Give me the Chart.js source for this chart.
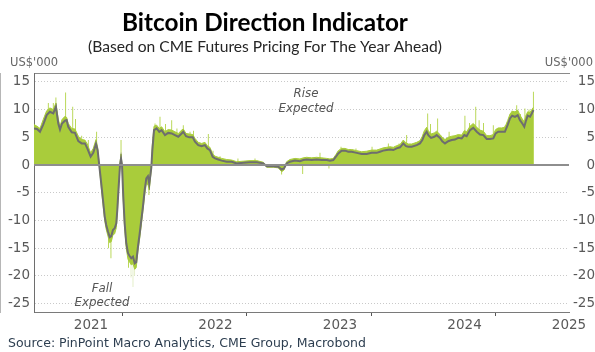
<!DOCTYPE html>
<html>
<head>
<meta charset="utf-8">
<script src="https://cdn.jsdelivr.net/npm/chart.js@4.4.1/dist/chart.umd.min.js"></script>
<style>
  html, body { margin: 0; padding: 0; background: #ffffff; }
  #wrap { position: relative; width: 595px; height: 352px; }
</style>
</head>
<body>
<div id="wrap"><canvas id="c" width="595" height="352"></canvas></div>
<script>
// ---------- DATA (US$'000, decimal-year dates) ----------
const dates = [
2021.042,2021.066,2021.090,2021.116,2021.144,2021.170,2021.197,2021.218,2021.237,2021.251,
2021.267,2021.291,2021.304,2021.317,2021.345,2021.371,2021.398,2021.425,2021.451,2021.470,
2021.497,2021.518,2021.540,2021.553,2021.566,2021.582,2021.596,2021.610,2021.622,2021.636,
2021.650,2021.663,2021.676,2021.690,2021.703,2021.711,2021.722,2021.733,2021.741,2021.749,
2021.759,2021.770,2021.783,2021.797,2021.810,2021.823,2021.837,2021.851,2021.863,2021.877,
2021.891,2021.904,2021.917,2021.931,2021.944,2021.957,2021.968,2021.984,2021.992,2022.006,
2022.027,2022.048,2022.067,2022.094,2022.120,2022.148,2022.174,2022.201,2022.228,2022.241,
2022.263,2022.289,2022.317,2022.335,2022.361,2022.389,2022.415,2022.434,2022.455,2022.477,
2022.496,2022.522,2022.549,2022.590,2022.630,2022.670,2022.723,2022.777,2022.831,2022.884,
2022.911,2022.964,2023.004,2023.031,2023.050,2023.071,2023.098,2023.138,2023.178,2023.205,
2023.232,2023.272,2023.312,2023.353,2023.393,2023.419,2023.446,2023.467,2023.486,2023.513,
2023.540,2023.566,2023.594,2023.634,2023.674,2023.714,2023.754,2023.794,2023.821,2023.847,
2023.875,2023.901,2023.928,2023.955,2023.982,2024.008,2024.030,2024.048,2024.076,2024.116,
2024.142,2024.161,2024.177,2024.196,2024.209,2024.231,2024.257,2024.276,2024.303,2024.321,
2024.343,2024.369,2024.397,2024.423,2024.450,2024.477,2024.498,2024.517,2024.544,2024.570,
2024.598,2024.624,2024.651,2024.678,2024.704,2024.731,2024.750,2024.771,2024.798,2024.824,
2024.846,2024.865,2024.883,2024.905,2024.927,2024.945,2024.964,2024.980,2024.991,2025.007,
2025.026,2025.040,2025.053
];

// daily indicator (green area)
const indicator = [
7.3,7.0,6.6,8.2,9.8,10.3,10.0,11.2,8.3,7.0,
8.2,8.8,8.6,7.5,6.6,6.5,5.2,4.6,4.5,3.8,
2.2,3.0,4.6,3.2,0,-4.0,-7.0,-10.0,-11.6,-12.8,
-14.0,-13.8,-12.6,-12.4,-11.3,-8.8,-4.3,0.5,2.0,0,
-6.3,-11.4,-15.0,-17.0,-17.5,-18.0,-17.8,-18.8,-18.5,-15.5,
-13.2,-10.8,-8.3,-5.4,-3.4,-3.5,-4.5,-0.8,3.5,7.0,
7.2,6.6,6.9,6.0,6.4,6.3,6.0,5.7,6.3,6.5,
5.7,5.6,5.5,4.8,4.1,3.9,4.1,3.5,3.2,2.0,
1.6,1.4,1.2,1.0,0.9,0.6,0.7,0.8,0.8,0.5,
-0.4,-0.4,-0.5,-1.2,-0.9,0.6,1.0,1.2,1.1,1.3,
1.4,1.3,1.4,1.3,1.2,1.1,1.2,1.9,2.6,3.0,
3.0,2.8,2.8,2.6,2.4,2.5,2.7,2.7,2.9,3.1,
3.2,3.3,3.2,3.5,3.7,4.5,4.0,3.8,3.8,4.1,
4.4,5.2,6.2,6.8,6.2,5.6,5.8,6.1,5.5,5.0,
4.6,5.0,5.2,5.3,5.5,5.4,6.2,6.0,7.0,7.5,
6.8,6.3,6.1,5.3,5.3,5.5,6.4,6.7,6.7,6.8,
8.0,9.2,9.7,9.6,9.9,9.0,8.3,7.8,8.8,9.6,
9.5,10.0,10.4
];

// smoothed indicator (grey line)
const smoothed = [
6.6,6.5,6.0,7.3,9.0,9.6,9.3,10.5,7.5,6.4,
7.5,8.0,8.1,6.9,5.9,5.8,4.3,3.9,3.9,3.0,
1.5,2.2,3.8,2.7,0,-3.3,-6.3,-9.3,-10.8,-12.0,
-13.0,-12.8,-11.7,-11.4,-10.5,-8.1,-3.9,0,1.2,0,
-5.7,-10.5,-14.1,-15.9,-16.4,-16.8,-16.5,-17.7,-17.5,-14.7,
-12.3,-9.9,-7.5,-4.5,-2.4,-2.0,-3.4,-0.5,2.5,6.3,
6.6,6.0,6.3,5.4,5.8,5.7,5.4,5.1,5.7,6.0,
5.2,5.0,5.0,4.2,3.6,3.4,3.6,3.0,2.7,1.5,
1.2,1.0,0.8,0.6,0.6,0.3,0.4,0.5,0.5,0.3,
-0.2,-0.2,-0.3,-0.8,-0.6,0.3,0.6,0.8,0.7,0.9,
1.0,0.9,1.0,0.9,0.9,0.8,0.9,1.5,2.1,2.6,
2.6,2.4,2.4,2.2,2.0,2.0,2.2,2.2,2.4,2.6,
2.7,2.8,2.7,3.0,3.2,3.9,3.4,3.3,3.3,3.6,
3.9,4.5,5.4,6.0,5.4,4.9,5.1,5.4,4.9,4.3,
3.9,4.3,4.5,4.6,4.9,4.8,5.4,5.2,6.3,6.7,
6.0,5.5,5.4,4.7,4.7,4.8,5.7,6.0,6.0,6.0,
7.2,8.4,8.9,8.7,9.0,8.1,7.5,6.9,7.8,8.9,
8.7,9.3,9.9
];

// single-day spikes of the daily indicator
const spikeDates = [
2021.157,2021.197,2021.218,2021.296,2021.353,2021.375,2021.425,2021.478,2021.545,2021.640,
2021.660,2021.741,2021.801,2021.821,2021.837,2021.850,2021.965,
2022.014,2022.054,2022.098,2022.148,2022.190,2022.241,2022.295,2022.323,2022.442,2022.480,
2022.536,2022.680,2022.817,
2023.031,2023.200,2023.339,2023.411,2023.508,2023.628,2023.757,2023.888,2023.974,
2024.035,2024.204,2024.227,2024.284,2024.376,2024.503,2024.540,2024.590,2024.617,2024.652,
2024.731,2024.824,2024.881,2024.919,2024.949,2024.985,2025.018,2025.053
];
const spikeValues = [
11.2,11.2,12.2,13.1,10.5,8.3,5.3,4.5,6.0,-15.0,
-16.8,4.5,-18.5,-20.3,-22.0,-20.0,-5.4,
7.5,8.7,7.4,8.1,6.6,7.2,6.0,6.2,5.6,2.6,
1.6,1.2,1.2,
-1.7,-1.6,2.2,-0.6,3.3,3.0,3.3,3.9,3.9,
5.4,9.3,7.4,8.4,6.0,8.9,7.6,10.5,8.1,7.6,
7.2,7.1,9.8,10.8,9.2,10.2,10.0,13.2
];

const yTickValues = [-25, -20, -15, -10, -5, 0, 5, 10, 15];
const yearBoundaries = [2022, 2023, 2024, 2025];
const yearLabels = ['2021', '2022', '2023', '2024', '2025'];
const X_MIN = 2021.042, X_MAX = 2025.339;
const Y_MIN = -26.5, Y_MAX = 16.6;

const titleText = 'Bitcoin Direction Indicator';
const subtitleText = '(Based on CME Futures Pricing For The Year Ahead)';
const sourceText = 'Source: PinPoint Macro Analytics, CME Group, Macrobond';
const unitText = "US$'000";
const notes = [
  { lines: ['Rise', 'Expected'], x: 2023.227, y: [12.8, 10.1] },
  { lines: ['Fall', 'Expected'], x: 2021.588, y: [-22.3, -24.9] }
];

// ---------- BUILD ----------
const areaData = dates.map((d, i) => ({ x: d, y: indicator[i] }));
const lineData = dates.map((d, i) => ({ x: d, y: smoothed[i] }));
const spikeData = spikeDates.map((d, i) => ({ x: d, y: spikeValues[i] }));

// x ticks: year boundaries carry tick marks, labels sit mid-year (last one at the right edge)
const labelPositions = [2021.5, 2022.5, 2023.5, 2024.5, X_MAX];
const xTicks = [...yearBoundaries.map(v => ({ value: v, kind: 'b' })),
                ...labelPositions.map((v, i) => ({ value: v, kind: 'l', text: yearLabels[i] }))]
                .sort((a, b) => a.value - b.value);

const FONT = 'DejaVu Sans';
const GREEN = '#a9cc3b';

function fitFont(ctx, text, style, weight, family, width) {
  ctx.font = `${style} ${weight} 100px "${family}"`;
  const w = ctx.measureText(text).width;
  return 100 * width / w;
}

const textPlugin = {
  id: 'texts',
  afterDraw(chart) {
    const ctx = chart.ctx;
    const xs = chart.scales.x, ys = chart.scales.y;
    ctx.save();
    ctx.textBaseline = 'middle';
    // title
    let s = fitFont(ctx, titleText, 'normal', 'bold', 'Lato', 286);
    ctx.font = `bold ${s}px "Lato"`;
    ctx.fillStyle = '#000000';
    ctx.textAlign = 'center';
    ctx.fillText(titleText, 265, 23);
    // subtitle
    s = fitFont(ctx, subtitleText, 'normal', 'normal', 'Lato', 354);
    ctx.font = `normal ${s}px "Lato"`;
    ctx.fillStyle = '#262626';
    ctx.fillText(subtitleText, 265, 47);
    // units
    ctx.font = `11.5px "${FONT}"`;
    ctx.fillStyle = '#666666';
    ctx.textAlign = 'left';
    ctx.fillText(unitText, 10, 63);
    ctx.textAlign = 'right';
    ctx.fillText(unitText, 593, 63);
    // source
    s = fitFont(ctx, sourceText, 'normal', 'normal', FONT, 358);
    ctx.font = `${s}px "${FONT}"`;
    ctx.fillStyle = '#2d3e50';
    ctx.textAlign = 'left';
    ctx.fillText(sourceText, 8, 344);
    // annotations
    ctx.font = `italic 11.8px "${FONT}"`;
    ctx.fillStyle = '#555555';
    ctx.textAlign = 'center';
    notes.forEach(n => {
      n.lines.forEach((t, i) => {
        ctx.fillText(t, xs.getPixelForValue(n.x), ys.getPixelForValue(n.y[i]));
      });
    });
    ctx.restore();
  }
};

Chart.defaults.font.family = FONT;

new Chart(document.getElementById('c'), {
  type: 'line',
  data: {
    datasets: [
      {
        label: 'Smoothed',
        data: lineData,
        borderColor: '#6e6e6e',
        borderWidth: 2,
        pointRadius: 0,
        fill: false,
        tension: 0,
        order: 0,
        xAxisID: 'x', yAxisID: 'y'
      },
      {
        label: 'Indicator',
        data: areaData,
        borderColor: GREEN,
        backgroundColor: GREEN,
        borderWidth: 1,
        pointRadius: 0,
        fill: 'origin',
        tension: 0,
        order: 1,
        xAxisID: 'x', yAxisID: 'y'
      },
      {
        type: 'bar',
        label: 'Spikes',
        data: spikeData,
        backgroundColor: ctx => (ctx.raw && ctx.raw.y < -19.5) ? '#e2edc4' : '#b3d448',
        borderWidth: 0,
        barThickness: 0.9,
        inflateAmount: 0,
        order: 2,
        xAxisID: 'x', yAxisID: 'y'
      }
    ]
  },
  options: {
    responsive: false,
    animation: false,
    events: [],
    layout: { padding: { top: 73, left: 0, right: 0, bottom: 0 } },
    plugins: { legend: { display: false }, tooltip: { enabled: false }, title: { display: false } },
    scales: {
      x: {
        type: 'linear', position: 'bottom', min: X_MIN, max: X_MAX, offset: false,
        afterBuildTicks: s => { s.ticks = xTicks.map(t => ({ value: t.value })); },
        afterFit: s => { s.height = 40; },
        ticks: {
          autoSkip: false, maxRotation: 0, minRotation: 0, padding: 1,
          color: '#595959', font: { size: 13.5 },
          callback: (v) => { const t = xTicks.find(k => Math.abs(k.value - v) < 1e-6); return t && t.kind === 'l' ? t.text : ''; }
        },
        grid: {
          drawOnChartArea: false, tickLength: 4, tickWidth: 1,
          tickColor: ctx => { const t = xTicks.find(k => ctx.tick && Math.abs(k.value - ctx.tick.value) < 1e-6); return t && t.kind === 'b' ? '#555555' : 'rgba(0,0,0,0)'; }
        },
        border: { display: true, color: '#7a7a7a', width: 1 }
      },
      xt: {
        type: 'linear', position: 'top', min: X_MIN, max: X_MAX,
        afterFit: s => { s.height = 0; },
        ticks: { display: false },
        grid: { display: false, drawTicks: false },
        border: { display: true, color: '#8a8a8a', width: 1 }
      },
      y: {
        type: 'linear', position: 'left', min: Y_MIN, max: Y_MAX,
        afterBuildTicks: s => { s.ticks = yTickValues.map(v => ({ value: v })); },
        afterFit: s => { s.width = 34; },
        ticks: { padding: 4, color: '#595959', font: { size: 13.5 } },
        grid: {
          drawTicks: false, lineWidth: 1,
          color: ctx => (ctx.tick && ctx.tick.value === 0) ? 'rgba(0,0,0,0)' : '#c9c9c9'
        },
        border: { display: true, color: '#6e6e6e', width: 1, dash: [1, 2] }
      },
      y2: {
        type: 'linear', position: 'right', min: Y_MIN, max: Y_MAX,
        afterBuildTicks: s => { s.ticks = yTickValues.map(v => ({ value: v })); },
        afterFit: s => { s.width = 26; },
        ticks: { padding: 3, crossAlign: 'far', color: '#595959', font: { size: 13.5 } },
        grid: {
          drawTicks: false, lineWidth: 2, z: 1,
          color: ctx => (ctx.tick && ctx.tick.value === 0) ? '#8e8e8e' : 'rgba(0,0,0,0)'
        },
        border: { display: true, color: '#6e6e6e', width: 1 }
      }
    }
  },
  plugins: [textPlugin]
});
</script>
</body>
</html>
